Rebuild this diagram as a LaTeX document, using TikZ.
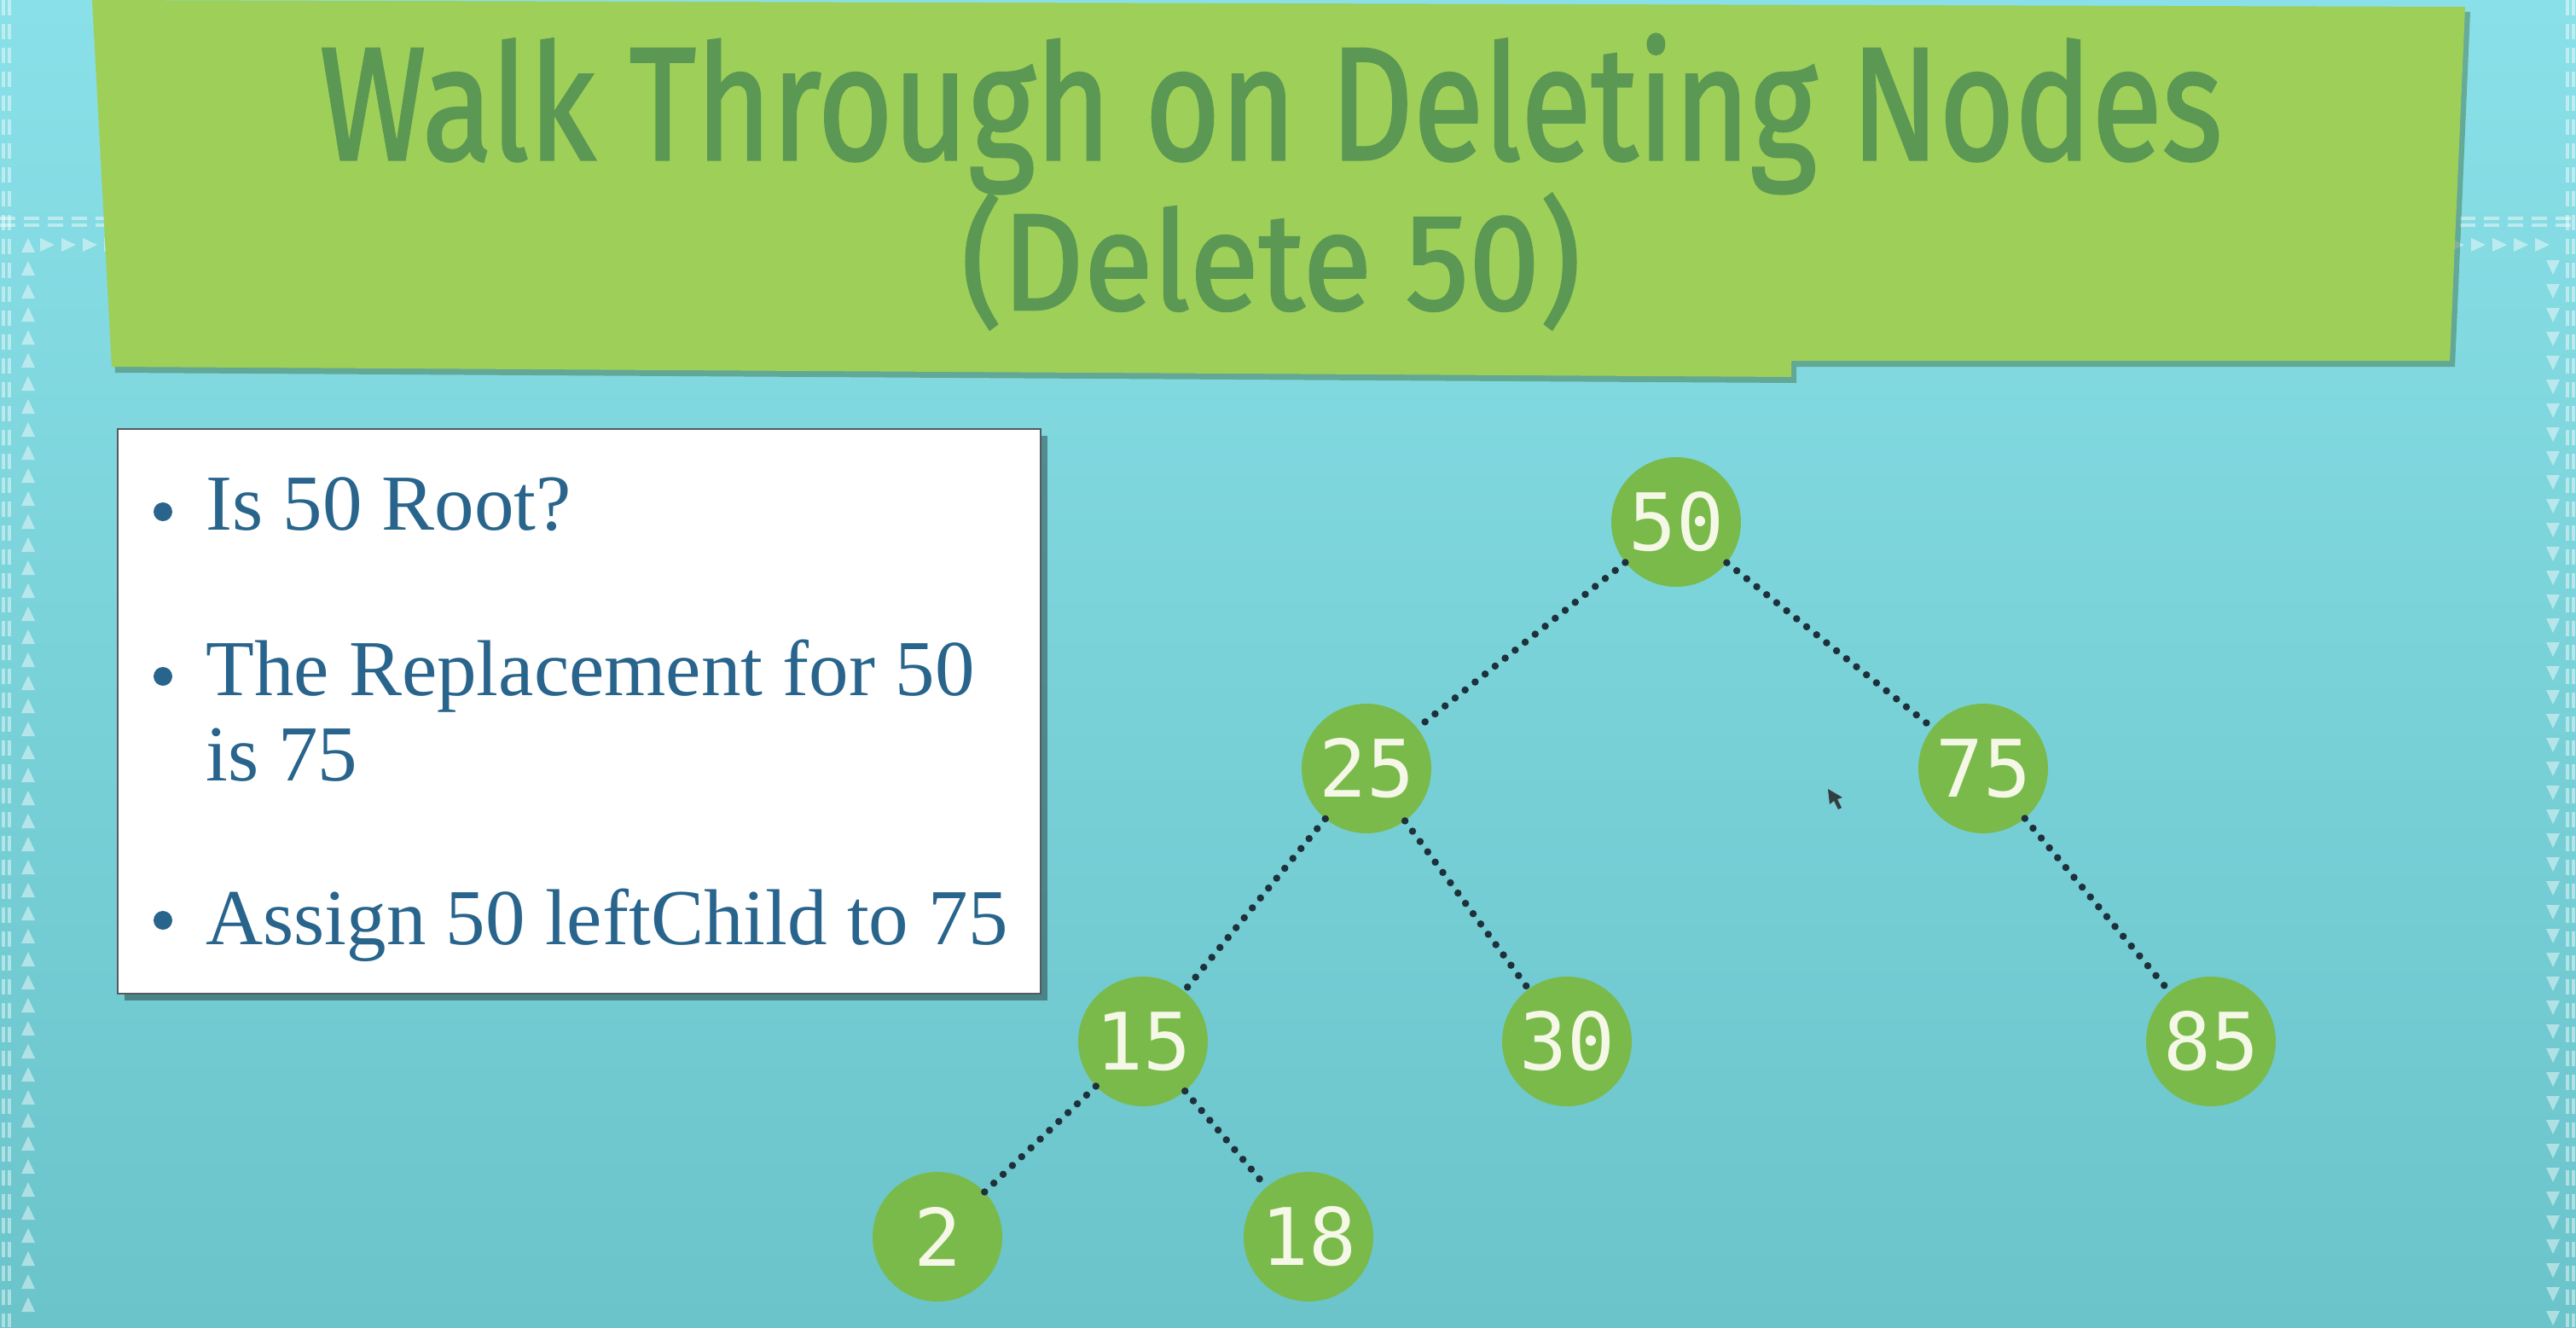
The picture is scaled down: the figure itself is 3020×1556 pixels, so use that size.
\documentclass[tikz,border=0pt]{standalone}
\usepackage{fontspec}
\usepackage{graphicx}
\newfontfamily\titlefont{Fira Sans}[FakeBold=1.6]
\newfontfamily\slidefont{Liberation Serif}
\newfontfamily\treefont{DejaVu Sans Mono}
\definecolor{bgtop}{RGB}{138,224,232}
\definecolor{bgbot}{RGB}{106,196,202}
\definecolor{banner}{RGB}{158,207,88}
\definecolor{bannershadow}{RGB}{60,110,60}
\definecolor{titlegreen}{RGB}{90,152,84}
\definecolor{nodegreen}{RGB}{122,186,75}
\definecolor{nodetext}{RGB}{245,248,230}
\definecolor{edgecol}{RGB}{30,48,58}
\definecolor{slideblue}{RGB}{40,100,140}
\definecolor{boxborder}{RGB}{85,90,95}
\tikzset{
  treenode/.style={circle,fill=nodegreen,minimum size=152pt,inner sep=0pt,
    text=nodetext,font=\treefont\fontsize{93}{100}\selectfont},
  edge/.style={draw=edgecol,line width=8.5pt,dash pattern=on 0pt off 15pt,line cap=round},
  bullettext/.style={anchor=base west,text=slideblue,inner sep=0pt,
    font=\slidefont\fontsize{93}{100}\selectfont},
  bulletdot/.style={fill=slideblue,draw=none},
  borderdash/.style={draw=white,draw opacity=0.45,line width=3.5pt,dash pattern=on 18pt off 10pt},
  bordertri/.style={fill=white,fill opacity=0.45,draw=none},
  titletext/.style={anchor=base,text=titlegreen,inner sep=0pt}
}
\begin{document}
\begin{tikzpicture}[x=1pt,y=-1pt]
\useasboundingbox (0,0) rectangle (3020,1556);
% background
\shade[top color=bgtop,bottom color=bgbot] (0,0) rectangle (3020,1556);
% outer double dashed frame
\foreach \xx in {4,11,3010,3017}{
  \draw[borderdash] (\xx,0) -- (\xx,1556);
}
\foreach \yy in {256,264}{
  \draw[borderdash] (0,\yy) -- (3020,\yy);
}
% inner triangle frame
\foreach \yy in {288,315,...,1556}{
  \fill[bordertri] (25,\yy+8) -- (41,\yy+8) -- (33,\yy-9) -- cycle;
}
\foreach \xx in {55,80,...,2983}{
  \fill[bordertri] (\xx-8,279) -- (\xx-8,295) -- (\xx+9,287) -- cycle;
}
\foreach \yy in {313,341,...,1556}{
  \fill[bordertri] (2985,\yy-8) -- (3001,\yy-8) -- (2993,\yy+9) -- cycle;
}
% banner shadow and banner
\fill[bannershadow,opacity=0.45] (114,6) -- (2896,14) -- (2878,430) -- (2106,430) -- (2106,449) -- (135,437) -- cycle;
\fill[banner] (108,0) -- (2890,8) -- (2872,423) -- (2100,423) -- (2100,442) -- (131,430) -- cycle;
\node[titletext] (title1) at (1490,187)
  {\resizebox{2228pt}{147pt}{\titlefont Walk Through on Deleting Nodes}};
\node[titletext] (title2) at (1490,363)
  {\resizebox{726pt}{136pt}{\titlefont (Delete 50)}};
% text box
\fill[black,opacity=0.35] (146,511) rectangle (1228,1173);
\filldraw[fill=white,draw=boxborder,line width=2.5pt] (138,503) rectangle (1220,1165);
\fill[bulletdot] (191,600) circle (11);
\fill[bulletdot] (191,793) circle (11);
\fill[bulletdot] (191,1079) circle (11);
\node[bullettext] (t1) at (241,621) {Is 50 Root?};
\node[bullettext] (t2) at (241,815) {The Replacement for 50};
\node[bullettext] (t3) at (241,915) {is 75};
\node[bullettext] (t4) at (241,1107) {Assign 50 leftChild to 75};
% tree
\node[treenode] (n50) at (1965,612) {50};
\node[treenode] (n25) at (1602,901) {25};
\node[treenode] (n75) at (2325,901) {75};
\node[treenode] (n15) at (1340,1221) {15};
\node[treenode] (n30) at (1837,1221) {30};
\node[treenode] (n85) at (2592,1221) {85};
\node[treenode] (n2) at (1099,1450) {2};
\node[treenode] (n18) at (1534,1450) {18};
\draw[edge] (n50) -- (n25);
\draw[edge] (n50) -- (n75);
\draw[edge] (n25) -- (n15);
\draw[edge] (n25) -- (n30);
\draw[edge] (n75) -- (n85);
\draw[edge] (n15) -- (n2);
\draw[edge] (n15) -- (n18);
% mouse pointer
\fill[black!85,opacity=0.85] (2143,925) -- (2145,943) -- (2150,939) -- (2155,949) -- (2159,947) -- (2154,937) -- (2160,935) -- cycle;
\end{tikzpicture}
\end{document}
